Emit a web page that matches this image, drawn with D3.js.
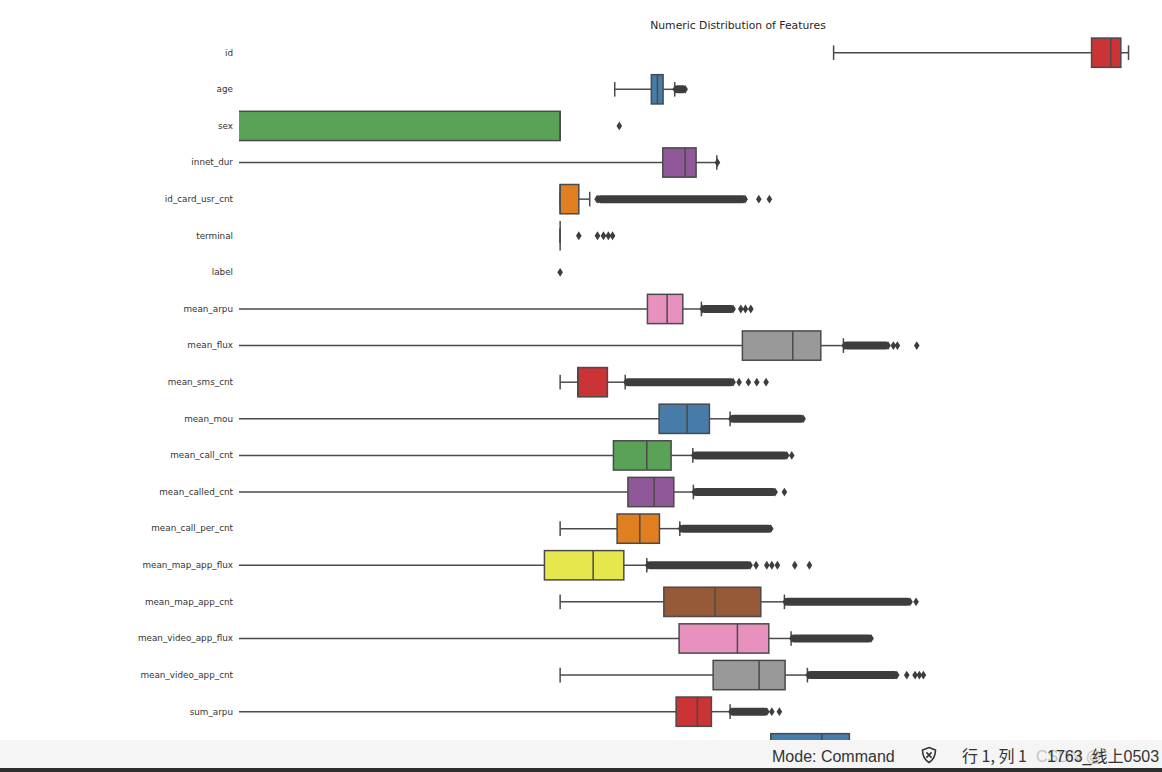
<!DOCTYPE html>
<html>
<head>
<meta charset="utf-8">
<script src="https://cdn.jsdelivr.net/npm/d3@7/dist/d3.min.js"></script>
<style>
  html, body { margin: 0; padding: 0; background: #ffffff; }
  svg { display: block; }
</style>
</head>
<body>
<svg id="chart" width="1162" height="772"></svg>
<script>
// ---------------- data (log-scaled x axis) ----------------
const title = "Numeric Distribution of Features";
const features = ["id","age","sex","innet_dur","id_card_usr_cnt","terminal","label",
  "mean_arpu","mean_flux","mean_sms_cnt","mean_mou","mean_call_cnt","mean_called_cnt",
  "mean_call_per_cnt","mean_map_app_flux","mean_map_app_cnt","mean_video_app_flux",
  "mean_video_app_cnt","sum_arpu","sum_flux"];
const whiskerLow  = [25800, 7.6, 0, 0, 1, 1, 0, 0, 0, 1, 0, 0, 0, 1, 0, 1, 0, 1, 0, 0];
const q1Values    = [3.74e8, 29.6, 0, 45.3, 1, 1, 0, 25.6, 871, 1.93, 39.5, 7.24, 12.4, 8.3, 0.558, 47.1, 83, 294, 74.3, 2500];
const medianValues= [7.66e8, 37.1, 1, 103.8, 1, 1, 0, 53.2, 5665, 1.93, 111.8, 25.0, 32.8, 19.3, 3.41, 316, 724, 1621, 164, 16630];
const q3Values    = [1.11e9, 45.8, 1, 156, 2, 1, 0, 95.3, 16030, 5.79, 256, 61.7, 68.2, 40, 10.65, 1726, 2323, 4256, 275.6, 46350];
const whiskerHigh = [1.476e9, 70.5, 1, 337, 3, 1, 0, 190, 37100, 11.2, 552, 138, 141, 85.2, 25.0, 4150, 5317, 9747, 552, 107700];
// dense runs of overlapping outliers [from, to] (null = none)
const denseOutliers = [null, [72, 104], null, null, [4.2, 964], null, null, [197, 617], [38500, 195000],
  [11.6, 617], [570, 8300], [143, 4530], [146, 2937], [88, 2502], [26, 1160], [4300, 441700],
  [5500, 103800], [10100, 269700], [570, 2158], null];
// isolated outliers
const outliers = [[], [], [9], [345], [3.95, 1603, 2376], [2, 4, 5, 6, 7], [1],
  [822, 975, 1191], [237600, 275700, 566600], [771, 1089, 1488, 2102], [], [5454], [4150], [],
  [1450, 2158, 2600, 3200, 6100, 10500], [552000], [], [390700, 531800, 624000, 724000],
  [2600, 3444], []];
const palette = ["#cb3335","#477ca8","#59a257","#905898","#df7f20","#e6e64d","#965a38","#e890be","#999999"];

// ---------------- layout ----------------
const W = 1162, H = 772;
const plot = {left: 239, right: 1237, top: 34.4, bottom: 766.6};
const xMin = 6.6e-6, xMax = 8.3e10;
const lineColor = "#4a4a4a", flierColor = "#3d3d3d";

const svg = d3.select("#chart");
const x = d3.scaleLog().domain([xMin, xMax]).range([plot.left, plot.right]);
const xs = v => (v > 0 ? x(v) : plot.left - 20);
const y = d3.scaleBand().domain(features).range([plot.top, plot.bottom]).padding(0);
const boxH = y.bandwidth() * 0.8;
const capH = boxH * 0.5;

svg.append("defs").append("clipPath").attr("id", "plotclip")
  .append("rect").attr("x", plot.left).attr("y", 0).attr("width", plot.right - plot.left).attr("height", H);

// title
svg.append("text").attr("x", (plot.left + plot.right) / 2).attr("y", 28.5)
  .attr("text-anchor", "middle").attr("font-family", "DejaVu Sans").attr("font-size", 10.8)
  .attr("fill", "#262626").text(title);

// y labels
const yAxis = d3.axisLeft(y).tickSize(0).tickPadding(6);
const ga = svg.append("g").attr("transform", `translate(${plot.left},0)`).call(yAxis);
ga.select(".domain").remove();
ga.selectAll("text").attr("font-family", "DejaVu Sans").attr("font-size", 8.8).attr("fill", "#333");

const g = svg.append("g").attr("clip-path", "url(#plotclip)");
const diamond = "M0,-4.4L2.8,0L0,4.4L-2.8,0Z";

features.forEach((f, i) => {
  const cy = y(f) + y.bandwidth() / 2;
  const col = palette[i % palette.length];
  const row = g.append("g");
  const lo = whiskerLow[i], hi = whiskerHigh[i], a = q1Values[i], b = q3Values[i], m = medianValues[i];
  if (!(b <= 0 && hi <= 0)) {
    row.append("line").attr("x1", xs(lo)).attr("x2", xs(a)).attr("y1", cy).attr("y2", cy)
      .attr("stroke", lineColor).attr("stroke-width", 1.5);
    row.append("line").attr("x1", xs(b)).attr("x2", xs(hi)).attr("y1", cy).attr("y2", cy)
      .attr("stroke", lineColor).attr("stroke-width", 1.5);
    [lo, hi].forEach(v => {
      if (v > 0) row.append("line").attr("x1", xs(v)).attr("x2", xs(v))
        .attr("y1", cy - capH / 2).attr("y2", cy + capH / 2)
        .attr("stroke", lineColor).attr("stroke-width", 1.5);
    });
    row.append("rect").attr("x", xs(a)).attr("y", cy - boxH / 2)
      .attr("width", Math.max(0, xs(b) - xs(a))).attr("height", boxH)
      .attr("fill", col).attr("stroke", lineColor).attr("stroke-width", 1.5);
    if (m > 0) row.append("line").attr("x1", xs(m)).attr("x2", xs(m))
      .attr("y1", cy - boxH / 2).attr("y2", cy + boxH / 2)
      .attr("stroke", lineColor).attr("stroke-width", 1.5);
  }
  const d = denseOutliers[i];
  if (d) {
    row.append("rect").attr("x", xs(d[0])).attr("y", cy - 4)
      .attr("width", xs(d[1]) - xs(d[0])).attr("height", 8).attr("rx", 2).attr("fill", flierColor);
    d.forEach(v => row.append("path").attr("d", diamond)
      .attr("transform", `translate(${xs(v)},${cy})`).attr("fill", flierColor));
  }
  outliers[i].forEach(v => row.append("path").attr("d", diamond)
    .attr("transform", `translate(${xs(v)},${cy})`).attr("fill", flierColor));
});

// ---------------- notebook status bar ----------------
const sb = svg.append("g");
sb.append("rect").attr("x", 0).attr("y", 740).attr("width", W).attr("height", 28).attr("fill", "#f5f5f5");
sb.append("rect").attr("x", 0).attr("y", 768).attr("width", W).attr("height", 4).attr("fill", "#2e2e2e");
sb.append("text").attr("x", 772).attr("y", 761.5).attr("font-family", "Liberation Sans, Arial")
  .attr("font-size", 16).attr("fill", "#333").text("Mode: Command");
const icon = sb.append("g").attr("transform", "translate(929,755)");
icon.append("path").attr("d", "M0,-7.5 L6.5,-5 C6.5,1 4,5 0,7.5 C-4,5 -6.5,1 -6.5,-5 Z")
  .attr("fill", "none").attr("stroke", "#333").attr("stroke-width", 1.6);
icon.append("path").attr("d", "M-2.6,-2.6 L2.6,2.6 M2.6,-2.6 L-2.6,2.6")
  .attr("stroke", "#333").attr("stroke-width", 1.6);
sb.append("text").attr("x", 962).attr("y", 761.5).attr("font-family", "Noto Sans CJK SC, Liberation Sans")
  .attr("font-size", 16).attr("fill", "#333").text("行 1, 列 1");
sb.append("text").attr("x", 1036).attr("y", 761.5).attr("font-family", "Liberation Sans, Arial")
  .attr("font-size", 16).attr("fill", "#c4c4c4").text("CSDN @");
sb.append("text").attr("x", 1047).attr("y", 761.5).attr("font-family", "Liberation Sans, Noto Sans CJK SC")
  .attr("font-size", 16).attr("fill", "#333").text("1763_线上0503");
</script>
</body>
</html>
